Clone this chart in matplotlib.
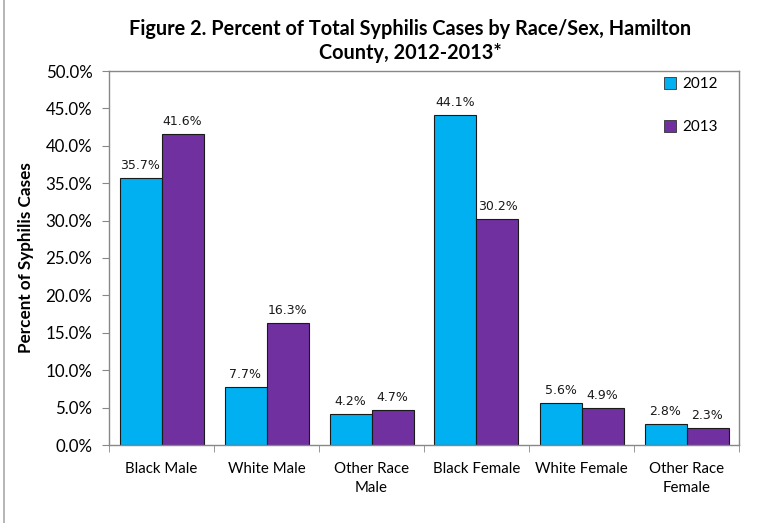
import matplotlib
matplotlib.use("Agg")
import matplotlib.pyplot as plt
import numpy as np
from matplotlib.lines import Line2D

categories = ["Black Male", "White Male", "Other Race\nMale", "Black Female", "White Female", "Other Race\nFemale"]
series_names = ["2012", "2013"]
values_2012 = [35.7, 7.7, 4.2, 44.1, 5.6, 2.8]
values_2013 = [41.6, 16.3, 4.7, 30.2, 4.9, 2.3]
colors = ["#00B0F0", "#7030A0"]

font = ["Lato", "DejaVu Sans"]
W, H = 775, 523
fig = plt.figure(figsize=(W / 100, H / 100), dpi=100)
ax = fig.add_axes([109 / W, 1 - 445 / H, (739 - 109) / W, (445 - 71) / H])

x = np.arange(len(categories))
bw = 0.4
for i, (vals, name) in enumerate(zip([values_2012, values_2013], series_names)):
    pos = x - bw / 2 + i * bw
    ax.bar(pos, vals, width=bw, color=colors[i], edgecolor="#1a1a1a", linewidth=0.8, label=name)
    for p, v in zip(pos, vals):
        ax.text(p, v + 0.8, f"{v:.1f}%", ha="center", va="bottom", fontsize=9, family="DejaVu Sans", color="#1a1a1a")

ax.set_xlim(-0.5, len(categories) - 0.5)
ax.set_ylim(0, 50)
ax.set_yticks(np.arange(0, 50.1, 5))
ax.set_yticklabels([f"{t:.1f}%" for t in np.arange(0, 50.1, 5)], family=font, fontsize=12.2)
ax.set_xticks(x)
ax.set_xticklabels(categories, family=font, fontsize=10.8, linespacing=1.45)
ax.set_xticks(np.arange(-0.5, len(categories), 1), minor=True)
ax.tick_params(axis="x", which="major", length=0, pad=12)
ax.tick_params(axis="x", which="minor", length=5, color="#888888", direction="out")
ax.tick_params(axis="y", length=5, color="#888888", direction="out", pad=7)
for s in ax.spines.values():
    s.set_color("#888888")
    s.set_linewidth(1.0)

ax.set_ylabel("Percent of Syphilis Cases", family=font, fontsize=12.3, fontweight="bold")
ax.yaxis.set_label_coords((26 - 109) / (739 - 109), 0.5)
ax.yaxis.label.set_verticalalignment("center")

fig.text(410 / W, 1 - 41 / H, "Figure 2. Percent of Total Syphilis Cases by Race/Sex, Hamilton\nCounty, 2012-2013*",
         ha="center", va="center", family=font, fontsize=14.3, fontweight="bold", linespacing=1.3)

handles = [Line2D([0], [0], marker="s", linestyle="none", markersize=8, markerfacecolor=c,
                  markeredgecolor="#333333", markeredgewidth=0.6) for c in colors]
leg = ax.legend(handles, series_names, loc="upper right", bbox_to_anchor=(0.99, 1.025), frameon=False,
                prop={"family": font, "size": 11}, labelspacing=1.9, handletextpad=0.3,
                handlelength=1.0, borderaxespad=0.6)

fig.add_artist(Line2D([4 / W, 4 / W], [0, 1], color="#aaaaaa", linewidth=1.2, transform=fig.transFigure))

fig.savefig("out.png", dpi=100)
